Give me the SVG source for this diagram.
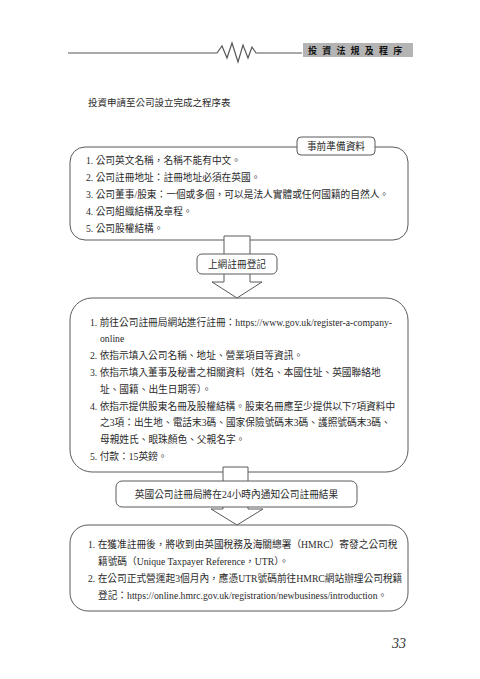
<svg xmlns="http://www.w3.org/2000/svg" width="480" height="679" viewBox="0 0 480 679">
<style>
.bg{fill:#ffffff}
.box{fill:#ffffff;stroke:#5a5a5a;stroke-width:1}
.arr{fill:#ffffff;stroke:#5a5a5a;stroke-width:1;stroke-linejoin:miter}
.lbl{fill:#ffffff;stroke:#5a5a5a;stroke-width:1}
.t{font-family:"Liberation Serif","Noto Sans CJK TC",serif;font-size:9.7px;fill:#2a2a2a}
.c{text-anchor:middle}
.title{font-family:"Noto Sans CJK TC",sans-serif;font-size:9.5px;fill:#2a2a2a}
.hdr{font-family:"Noto Sans CJK TC",sans-serif;font-size:9px;font-weight:bold;fill:#111;letter-spacing:5.2px}
.pg{font-family:"Liberation Serif",serif;font-style:italic;font-size:14px;fill:#333}
</style>
<rect class="bg" x="0" y="0" width="480" height="679"/>

<g id="header">
  <polyline points="68,53 217,53 222,46 227,58 232,43 238,62 243,45 248,58 252,47 256,53 302,53" fill="none" stroke="#555" stroke-width="1.2"/>
  <rect x="303" y="43" width="110" height="14" fill="#b4b4b4"/>
  <text class="hdr" x="308" y="53.5">投資法規及程序</text>
</g>

<g id="title">
  <text class="title" x="88" y="106">投資申請至公司設立完成之程序表</text>
</g>

<g id="box1">
  <rect class="box" x="70" y="147" width="338" height="93" rx="15"/>
  <rect class="lbl" x="297" y="137" width="78" height="18" rx="4"/>
  <text class="t c" x="336" y="149.5">事前準備資料</text>
  <text class="t" x="86" y="163.5">1. 公司英文名稱，名稱不能有中文。</text>
  <text class="t" x="86" y="180.5">2. 公司註冊地址：註冊地址必須在英國。</text>
  <text class="t" x="86" y="197.5">3. 公司董事/股東：一個或多個，可以是法人實體或任何國籍的自然人。</text>
  <text class="t" x="86" y="214.5">4. 公司組織結構及章程。</text>
  <text class="t" x="86" y="231.5">5. 公司股權結構。</text>
</g>

<g id="box2">
  <rect class="box" x="70" y="298" width="338" height="174" rx="22"/>
  <text class="t" x="90" y="325.5">1. 前往公司註冊局網站進行註冊：https://www.gov.uk/register-a-company-</text>
  <text class="t" x="100" y="342.3">online</text>
  <text class="t" x="90" y="359.1">2. 依指示填入公司名稱、地址、營業項目等資訊。</text>
  <text class="t" x="90" y="375.9">3. 依指示填入董事及秘書之相關資料（姓名、本國住址、英國聯絡地</text>
  <text class="t" x="100" y="392.7">址、國籍、出生日期等）。</text>
  <text class="t" x="90" y="409.5">4. 依指示提供股東名冊及股權結構。股東名冊應至少提供以下7項資料中</text>
  <text class="t" x="100" y="426.3">之3項：出生地、電話末3碼、國家保險號碼末3碼、護照號碼末3碼、</text>
  <text class="t" x="100" y="443.1">母親姓氏、眼珠顏色、父親名字。</text>
  <text class="t" x="90" y="459.9">5. 付款：15英鎊。</text>
</g>

<g id="box3">
  <rect class="box" x="70" y="525" width="338" height="86" rx="18"/>
  <text class="t" x="88" y="547.5">1. 在獲准註冊後，將收到由英國稅務及海關總署（HMRC）寄發之公司稅</text>
  <text class="t" x="98" y="564.5">籍號碼（Unique Taxpayer Reference，UTR）。</text>
  <text class="t" x="88" y="581.5">2. 在公司正式營運起3個月內，應憑UTR號碼前往HMRC網站辦理公司稅籍</text>
  <text class="t" x="98" y="598.5">登記：https://online.hmrc.gov.uk/registration/newbusiness/introduction。</text>
</g>

<g id="connectors">
  <path class="arr" d="M224,236 L250,236 L250,282 L262,282 L237,298 L212,282 L224,282 Z"/>
  <path class="arr" d="M223,467 L248,467 L248,509 L263,509 L237,525 L211,509 L223,509 Z"/>
</g>

<g id="label1">
  <rect class="lbl" x="197" y="254" width="80" height="20" rx="5"/>
  <text class="t c" x="237" y="267.5">上網註冊登記</text>
</g>

<g id="label2">
  <rect class="lbl" x="116" y="481" width="241" height="26" rx="6"/>
  <text class="t c" x="236.5" y="497.5">英國公司註冊局將在24小時內通知公司註冊結果</text>
</g>

<g id="page">
  <text class="pg" x="392" y="648">33</text>
</g>
</svg>
